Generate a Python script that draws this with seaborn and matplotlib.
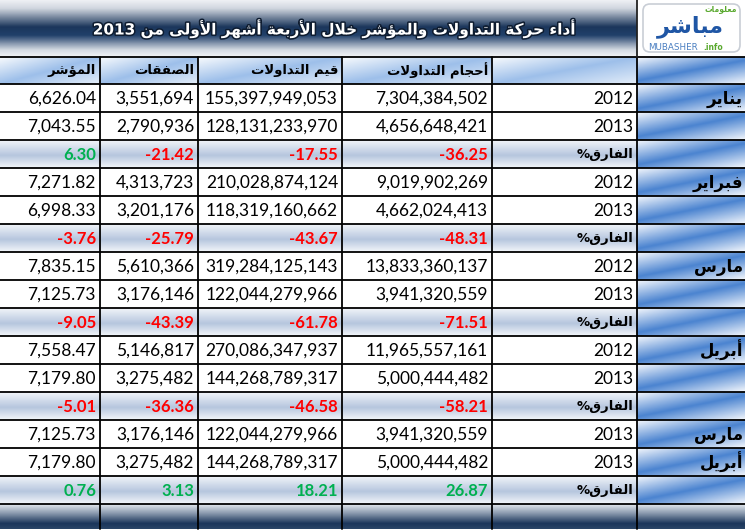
import numpy as np
import matplotlib
matplotlib.use("Agg")
import matplotlib.pyplot as plt
import seaborn as sns
from matplotlib import patheffects as pe
from matplotlib.patches import FancyBboxPatch
from matplotlib.colors import LinearSegmentedColormap

# ---------------- data ----------------
title = "أداء حركة التداولات والمؤشر خلال الأربعة أشهر الأولى من 2013"
header_volumes = "أحجام التداولات"
header_values = "قيم التداولات"
header_deals = "الصفقات"
header_index = "المؤشر"
diff_label = "الفارق%"

month_labels = ["يناير", "", "", "فبراير", "", "", "مارس", "", "",
                "أبريل", "", "", "مارس", "أبريل", ""]
year_labels = ["2012", "2013", diff_label, "2012", "2013", diff_label,
               "2012", "2013", diff_label, "2012", "2013", diff_label,
               "2013", "2013", diff_label]

volumes = [7304384502, 4656648421, -36.25, 9019902269, 4662024413, -48.31,
           13833360137, 3941320559, -71.51, 11965557161, 5000444482, -58.21,
           3941320559, 5000444482, 26.87]
values = [155397949053, 128131233970, -17.55, 210028874124, 118319160662, -43.67,
          319284125143, 122044279966, -61.78, 270086347937, 144268789317, -46.58,
          122044279966, 144268789317, 18.21]
deals = [3551694, 2790936, -21.42, 4313723, 3201176, -25.79,
         5610366, 3176146, -43.39, 5146817, 3275482, -36.36,
         3176146, 3275482, 3.13]
index_vals = [6626.04, 7043.55, 6.30, 7271.82, 6998.33, -3.76,
              7835.15, 7125.73, -9.05, 7558.47, 7179.80, -5.01,
              7125.73, 7179.80, 0.76]

# ---------------- Arabic shaping (presentation forms) ----------------
_forms = {
    'ء': (0xFE80, 1), 'آ': (0xFE81, 2), 'أ': (0xFE83, 2), 'ؤ': (0xFE85, 2),
    'إ': (0xFE87, 2), 'ئ': (0xFE89, 4), 'ا': (0xFE8D, 2), 'ب': (0xFE8F, 4),
    'ة': (0xFE93, 2), 'ت': (0xFE95, 4), 'ث': (0xFE99, 4), 'ج': (0xFE9D, 4),
    'ح': (0xFEA1, 4), 'خ': (0xFEA5, 4), 'د': (0xFEA9, 2), 'ذ': (0xFEAB, 2),
    'ر': (0xFEAD, 2), 'ز': (0xFEAF, 2), 'س': (0xFEB1, 4), 'ش': (0xFEB5, 4),
    'ص': (0xFEB9, 4), 'ض': (0xFEBD, 4), 'ط': (0xFEC1, 4), 'ظ': (0xFEC5, 4),
    'ع': (0xFEC9, 4), 'غ': (0xFECD, 4), 'ف': (0xFED1, 4), 'ق': (0xFED5, 4),
    'ك': (0xFED9, 4), 'ل': (0xFEDD, 4), 'م': (0xFEE1, 4), 'ن': (0xFEE5, 4),
    'ه': (0xFEE9, 4), 'و': (0xFEED, 2), 'ى': (0xFEEF, 2), 'ي': (0xFEF1, 4),
    '\uFEF5': (0xFEF5, 2), '\uFEF7': (0xFEF7, 2), '\uFEF9': (0xFEF9, 2),
    '\uFEFB': (0xFEFB, 2),
}


def _shape_word(w):
    for a, b in (('لآ', '\uFEF5'), ('لأ', '\uFEF7'), ('لإ', '\uFEF9'), ('لا', '\uFEFB')):
        w = w.replace(a, b)
    out = []
    for i, c in enumerate(w):
        if c not in _forms:
            out.append(c)
            continue
        base, n = _forms[c]
        prev = w[i - 1] if i > 0 else None
        nxt = w[i + 1] if i + 1 < len(w) else None
        jp = prev is not None and prev in _forms and _forms[prev][1] == 4
        jn = n == 4 and nxt is not None and nxt in _forms and _forms[nxt][1] > 1
        if n == 1:
            f = 0
        elif n == 2:
            f = 1 if jp else 0
        else:
            f = 3 if (jp and jn) else (1 if jp else (2 if jn else 0))
        out.append(chr(base + f))
    return ''.join(out)


def _is_ar(ch):
    return '\u0600' <= ch <= '\u06FF'


def rtl(text):
    vis = []
    for tok in reversed(text.split(' ')):
        runs = []
        for ch in tok:
            a = _is_ar(ch)
            if runs and runs[-1][0] == a:
                runs[-1][1] += ch
            else:
                runs.append([a, ch])
        parts = []
        for a, s in reversed(runs):
            parts.append(_shape_word(s)[::-1] if a else s)
        vis.append(''.join(parts))
    return ' '.join(vis)


# ---------------- figure ----------------
sns.set_theme(style="white")
plt.rcParams['font.family'] = ['Lato', 'DejaVu Sans']

W, H = 745, 531
fig = plt.figure(figsize=(W / 100, H / 100), dpi=100)
ax = fig.add_axes([0, 0, 1, 1])
ax.set_xlim(0, W)
ax.set_ylim(H, 0)
ax.axis('off')

col_edges = [0, 100, 198, 342, 492, 637, 745]
title_h, head_top, body_top, row_h = 57, 57, 84, 28
n_rows = len(year_labels)
body_bottom = body_top + n_rows * row_h
foot_bottom = 529


def cmap_from(colors, positions):
    pal = sns.blend_palette(colors, n_colors=len(colors))
    return LinearSegmentedColormap.from_list("g", list(zip(positions, pal)))


def vgrad(x0, x1, y0, y1, cmap, n=64):
    arr = np.linspace(0, 1, n)[:, None] * np.ones((1, 4))
    ax.imshow(arr, cmap=cmap, vmin=0, vmax=1, extent=(x0, x1, y1, y0),
              aspect='auto', interpolation='bilinear', zorder=0)


def dgrad(x0, x1, y0, y1, cmap, n=48, wy=1.0):
    xs = np.linspace(0, 1, n)[None, :]
    ys = np.linspace(0, 1, n)[:, None]
    s = (xs + wy * ys) / (1.0 + wy)
    ax.imshow(s, cmap=cmap, vmin=0, vmax=1, extent=(x0, x1, y1, y0),
              aspect='auto', interpolation='bilinear', zorder=0)


title_cmap = cmap_from(['#eef0f4', '#d0d6df', '#1b365b', '#21406a', '#d3d9e2', '#f1f3f6'],
                       [0, 0.14, 0.47, 0.62, 0.88, 1])
foot_cmap = cmap_from(['#e3e8ee', '#8e9db1', '#1b365b', '#2a4567'], [0, 0.35, 0.78, 1])
diff_cmap = cmap_from(['#f1f4f9', '#b6c6de', '#f3f6fa'], [0, 0.55, 1])
head_cmap = cmap_from(['#f7fafd', '#9dbfea', '#e3edf9'], [0, 0.5, 1])
month_cmap = cmap_from(['#f2f6fc', '#4a83d0', '#f2f6fc'], [0, 0.5, 1])

# title band
vgrad(0, col_edges[5], 0, title_h, title_cmap)
ax.add_patch(plt.Rectangle((col_edges[5], 0), W - col_edges[5], title_h,
                           facecolor='white', edgecolor='none', zorder=0))
# header row
for c in range(5):
    dgrad(col_edges[c], col_edges[c + 1], head_top, body_top, head_cmap)
# month column cells
for r in range(-1, n_rows):
    y0 = body_top + r * row_h if r >= 0 else head_top
    dgrad(col_edges[5], W, y0, y0 + (row_h if r >= 0 else body_top - head_top),
          month_cmap, wy=1.3)
# diff rows
for r, lab in enumerate(year_labels):
    if lab == diff_label:
        y0 = body_top + r * row_h
        vgrad(0, col_edges[5], y0, y0 + row_h, diff_cmap)
# footer
vgrad(0, W, body_bottom, foot_bottom, foot_cmap)

# grid lines
lw = 1.3
for y in [head_top, body_top] + [body_top + (r + 1) * row_h for r in range(n_rows)]:
    ax.plot([0, W], [y, y], color='black', lw=lw, zorder=2, solid_capstyle='butt')
for x in col_edges[1:-1]:
    ax.plot([x, x], [head_top, foot_bottom], color='black', lw=lw, zorder=2)
ax.plot([col_edges[5], col_edges[5]], [0, head_top], color='#222222', lw=lw, zorder=2)

# title
ax.text(333, 29, rtl(title), ha='center', va='center', color='white',
        fontsize=11, fontweight='bold', family=['DejaVu Sans'], zorder=3,
        path_effects=[pe.withStroke(linewidth=2.2, foreground='#0e1c30')])

# logo
ax.add_patch(FancyBboxPatch((643, 4), 97, 48, boxstyle="round,pad=0,rounding_size=7",
                            facecolor='white', edgecolor='#c9ced6', lw=1.2, zorder=2))
ax.text(690, 26.5, rtl("مباشر"), ha='center', va='center', color='#1f56a5',
        fontsize=16, fontweight='bold', family=['DejaVu Sans'], zorder=3)
ax.text(737, 9, rtl("معلومات"), ha='right', va='center', color='#5aa92f',
        fontsize=5.5, fontweight='bold', family=['DejaVu Sans'], zorder=3)
ax.text(648, 47.5, "MUBASHER", ha='left', va='center', color='#4a7fc1',
        fontsize=6.3, family=['DejaVu Sans'], zorder=3)
ax.text(703, 48, ".info", ha='left', va='center', color='#5aa92f',
        fontsize=5.5, fontweight='bold', family=['DejaVu Sans'], zorder=3)

# headers
headers = [header_index, header_deals, header_values, header_volumes]
for c, h in enumerate(headers):
    ax.text(col_edges[c + 1] - 4, (head_top + body_top) / 2, rtl(h), ha='right',
            va='center', fontsize=9.5, fontweight='bold', family=['DejaVu Sans'],
            color='black', zorder=3)

# body
def fmt(v, c):
    if c == 0:
        return f"{v:,.2f}"
    return f"{int(v):,}"

columns = [index_vals, deals, values, volumes]
for r in range(n_rows):
    yc = body_top + r * row_h + row_h / 2 + 0.5
    is_diff = year_labels[r] == diff_label
    for c, col in enumerate(columns):
        v = col[r]
        if is_diff:
            txt = f"{v:.2f}"
            colr = '#ff0000' if v < 0 else '#00b050'
            ax.text(col_edges[c + 1] - 4, yc, txt, ha='right', va='center',
                    fontsize=12, fontweight='bold', color=colr, zorder=3)
        else:
            ax.text(col_edges[c + 1] - 4, yc, fmt(v, c), ha='right', va='center',
                    fontsize=12.5, color='black', zorder=3)
    if is_diff:
        ax.text(col_edges[5] - 4, yc, rtl(year_labels[r]), ha='right', va='center',
                fontsize=9.5, fontweight='bold', family=['DejaVu Sans'], color='black', zorder=3)
    else:
        ax.text(col_edges[5] - 4, yc, year_labels[r], ha='right', va='center',
                fontsize=12.5, color='black', zorder=3)
    if month_labels[r]:
        ax.text(W - 2, yc, rtl(month_labels[r]), ha='right', va='center',
                fontsize=12, fontweight='bold', family=['DejaVu Sans'], color='black', zorder=3)

fig.savefig("out.png", dpi=100)
